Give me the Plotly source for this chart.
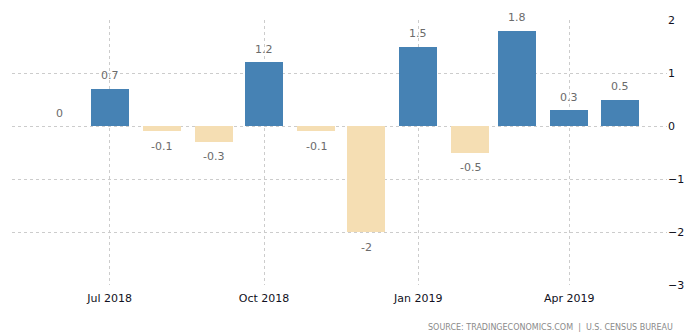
import plotly.graph_objects as go

months = ["2018-06-01", "2018-07-01", "2018-08-01", "2018-09-01", "2018-10-01", "2018-11-01",
          "2018-12-01", "2019-01-01", "2019-02-01", "2019-03-01", "2019-04-01", "2019-05-01"]
values = [0, 0.7, -0.1, -0.3, 1.2, -0.1, -2, 1.5, -0.5, 1.8, 0.3, 0.5]
labels = ["0", "0.7", "-0.1", "-0.3", "1.2", "-0.1", "-2", "1.5", "-0.5", "1.8", "0.3", "0.5"]

POS = "#4682B4"
NEG = "#F5DEB3"
colors = [POS if v >= 0 else NEG for v in values]

fig = go.Figure()
fig.add_trace(go.Bar(
    x=months, y=values, marker=dict(color=colors, line=dict(width=0)),
    width=22.6 * 86400000, hoverinfo="x+y",
))

annotations = []
for m, v, t in zip(months, values, labels):
    annotations.append(dict(
        x=m, y=v, xref="x", yref="y", text=t, showarrow=False,
        yshift=13 if v >= 0 else -15,
        font=dict(family="DejaVu Sans", size=11, color="#6b6b6b"),
    ))
annotations.append(dict(
    x=1.0, y=-0.16, xref="paper", yref="paper", xanchor="right", yanchor="middle",
    text="SOURCE: TRADINGECONOMICS.COM  |  U.S. CENSUS BUREAU", showarrow=False,
    xshift=8,
    font=dict(family="DejaVu Sans", size=8, color="#8a8a8a"),
))

fig.update_layout(
    width=691, height=334,
    margin=dict(l=12, r=24, t=20, b=49),
    paper_bgcolor="white", plot_bgcolor="white",
    showlegend=False,
    bargap=0,
    annotations=annotations,
    font=dict(family="DejaVu Sans", size=11, color="#111122"),
    xaxis=dict(
        type="date", automargin=False,
        range=["2018-05-03T18:00", "2019-05-29T06:00"],
        tick0="2018-07-01", dtick="M3", tickformat="%b %Y",
        showgrid=True, gridcolor="#cccccc", griddash="dot", gridwidth=1,
        showline=False, zeroline=False,
        ticks="outside", ticklen=3, tickcolor="rgba(0,0,0,0)",
        tickfont=dict(family="DejaVu Sans", size=11, color="#111122"),
    ),
    yaxis=dict(
        side="right", range=[-3, 2], dtick=1, tick0=0, automargin=False,
        showgrid=True, gridcolor="#cccccc", griddash="dot", gridwidth=1,
        zeroline=False, showline=False, ticks="",
        tickfont=dict(family="DejaVu Sans", size=11, color="#111122"),
    ),
)

fig.write_html("out.html")
